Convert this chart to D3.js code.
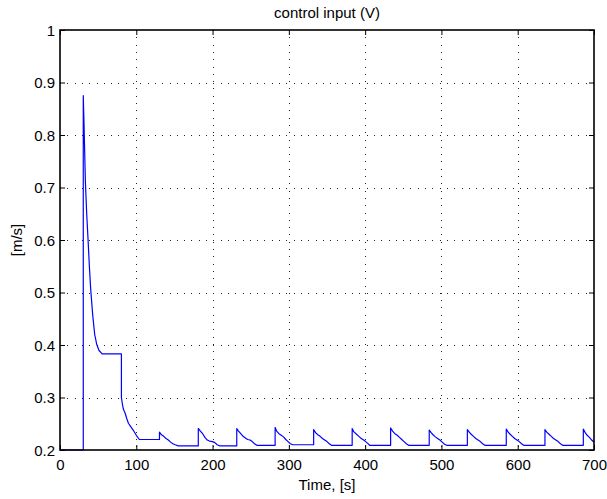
<!DOCTYPE html>
<html>
<head>
<meta charset="utf-8">
<script src="https://cdn.jsdelivr.net/npm/d3@7"></script>
<style>
  html, body { margin: 0; padding: 0; background: #fff; }
  svg { display: block; }
  text { font-family: "Liberation Sans", Arial, Helvetica, sans-serif; fill: #000; }
</style>
</head>
<body>
<svg id="chart" width="607" height="499"></svg>
<script>
// ---- data ----
const chartTitle = "control input (V)";
const xLabel = "Time, [s]";
const yLabel = "[m/s]";
const xTicks = [0, 100, 200, 300, 400, 500, 600, 700];
const yTicks = [0.2, 0.3, 0.4, 0.5, 0.6, 0.7, 0.8, 0.9, 1];
const xTickLabels = ["0", "100", "200", "300", "400", "500", "600", "700"];
const yTickLabels = ["0.2", "0.3", "0.4", "0.5", "0.6", "0.7", "0.8", "0.9", "1"];

const times = [
  0, 30.5, 30.5, 31.5, 33.3, 35, 36.8, 38.5, 40.3, 43, 45.5, 48, 51, 55.2,
  80.5, 80.5, 81.5, 83, 85.4, 87.5, 89.7, 92.5, 95.9, 100, 104, 130.4,
  130.4, 133, 136, 139, 142, 145, 148, 151, 155, 181.3,
  181.3, 184, 187, 190, 193, 196, 200, 203, 206, 209, 231.7,
  231.7, 234, 237, 240, 243, 246, 249, 252, 255, 258, 282,
  282, 284, 287, 290, 293, 296, 299, 302, 305, 332.5,
  332.5, 335, 338, 341, 344, 347, 350, 353, 356, 383,
  383, 385, 388, 391, 394, 397, 400, 403, 406, 433.4,
  433.4, 436, 439, 442, 445, 448, 451, 454, 457, 484,
  484, 486.5, 489, 492, 495, 498, 501, 504, 507, 534,
  534, 536.5, 539, 542, 545, 548, 551, 554, 557, 585,
  585, 587.5, 590, 593, 596, 599, 602, 605, 608, 635.7,
  635.7, 638, 641, 644, 647, 650, 653, 656, 659, 686,
  686, 688.5, 691, 694, 697, 700
];
const values = [
  0.2, 0.2, 0.875, 0.82, 0.71, 0.65, 0.60, 0.55, 0.505, 0.455, 0.42, 0.402, 0.39, 0.383,
  0.383, 0.30, 0.29, 0.278, 0.27, 0.26, 0.251, 0.245, 0.238, 0.228, 0.22, 0.22,
  0.234, 0.229, 0.226, 0.222, 0.219, 0.215, 0.212, 0.210, 0.2078, 0.2078,
  0.241, 0.236, 0.231, 0.224, 0.219, 0.217, 0.216, 0.214, 0.210, 0.208, 0.208,
  0.241, 0.236, 0.231, 0.226, 0.223, 0.220, 0.219, 0.216, 0.212, 0.209, 0.209,
  0.243, 0.236, 0.231, 0.228, 0.225, 0.220, 0.216, 0.212, 0.210, 0.210,
  0.239, 0.233, 0.229, 0.226, 0.222, 0.219, 0.216, 0.212, 0.209, 0.209,
  0.241, 0.235, 0.231, 0.227, 0.223, 0.220, 0.217, 0.213, 0.209, 0.209,
  0.242, 0.236, 0.231, 0.228, 0.224, 0.220, 0.216, 0.212, 0.209, 0.209,
  0.238, 0.233, 0.229, 0.225, 0.222, 0.219, 0.215, 0.211, 0.209, 0.209,
  0.239, 0.234, 0.230, 0.226, 0.222, 0.219, 0.216, 0.212, 0.209, 0.209,
  0.240, 0.234, 0.230, 0.226, 0.222, 0.219, 0.216, 0.212, 0.209, 0.209,
  0.239, 0.234, 0.230, 0.226, 0.222, 0.219, 0.216, 0.212, 0.209, 0.209,
  0.240, 0.233, 0.228, 0.224, 0.219, 0.2147
];

// ---- layout ----
const W = 607, H = 499;
const margin = { left: 60, right: 13, top: 30, bottom: 49 };
const pw = W - margin.left - margin.right;
const ph = H - margin.top - margin.bottom;

const svg = d3.select("#chart");
const g = svg.append("g").attr("transform", `translate(${margin.left},${margin.top})`);

const x = d3.scaleLinear().domain([0, 700]).range([0, pw]);
const y = d3.scaleLinear().domain([0.2, 1]).range([ph, 0]);

// grid
const gridStyle = sel => sel.attr("stroke", "#222").attr("stroke-width", 1)
  .attr("stroke-dasharray", "1,6.3").attr("shape-rendering", "crispEdges");
g.append("g").selectAll("line").data(xTicks.slice(1, -1)).join("line")
  .attr("x1", d => Math.round(x(d)) + 0.5).attr("x2", d => Math.round(x(d)) + 0.5)
  .attr("y1", 0).attr("y2", ph).call(gridStyle);
g.append("g").selectAll("line").data(yTicks.slice(1, -1)).join("line")
  .attr("y1", d => Math.round(y(d)) + 0.5).attr("y2", d => Math.round(y(d)) + 0.5)
  .attr("x1", 0).attr("x2", pw).call(gridStyle);

// data line
const data = times.map((t, i) => ({ t, v: values[i] }));
g.append("path").datum(data)
  .attr("fill", "none").attr("stroke", "#0000ff").attr("stroke-width", 1.2)
  .attr("stroke-linejoin", "round")
  .attr("d", d3.line().x(d => x(d.t)).y(d => y(d.v)));

// axes (ticks inward on all four sides)
const tickLen = 5;
const axBottom = d3.axisBottom(x).tickValues(xTicks).tickFormat((d, i) => xTickLabels[i])
  .tickSizeInner(-tickLen).tickSizeOuter(0).tickPadding(10);
const axLeft = d3.axisLeft(y).tickValues(yTicks).tickFormat((d, i) => yTickLabels[i])
  .tickSizeInner(-tickLen).tickSizeOuter(0).tickPadding(10);
const axTop = d3.axisTop(x).tickValues(xTicks).tickFormat("").tickSizeInner(-tickLen).tickSizeOuter(0);
const axRight = d3.axisRight(y).tickValues(yTicks).tickFormat("").tickSizeInner(-tickLen).tickSizeOuter(0);

function styleAxis(a) {
  a.select(".domain").remove();
  a.selectAll("line").attr("stroke", "#000").attr("stroke-width", 1);
  a.selectAll("text").attr("font-size", 15)
    .attr("font-family", '"Liberation Sans", Arial, sans-serif');
}
const bx = g.append("g").attr("transform", `translate(0,${ph})`).call(axBottom).call(styleAxis);
bx.selectAll("text").attr("dy", null).attr("y", 20);
const lx = g.append("g").call(axLeft).call(styleAxis);
lx.selectAll("text").attr("x", -5).attr("dy", "0.35em");
g.append("g").call(axTop).call(styleAxis);
g.append("g").attr("transform", `translate(${pw},0)`).call(axRight).call(styleAxis);

// box
g.append("rect").attr("x", 0).attr("y", 0).attr("width", pw).attr("height", ph)
  .attr("fill", "none").attr("stroke", "#000").attr("stroke-width", 1.6);

// titles
svg.append("text").attr("x", margin.left + pw / 2).attr("y", 17.5)
  .attr("text-anchor", "middle").attr("font-size", 15).text(chartTitle);
svg.append("text").attr("x", margin.left + pw / 2).attr("y", 490)
  .attr("text-anchor", "middle").attr("font-size", 15).text(xLabel);
svg.append("text").attr("transform", `translate(21.5,${margin.top + ph / 2}) rotate(-90)`)
  .attr("text-anchor", "middle").attr("font-size", 15).text(yLabel);
</script>
</body>
</html>
